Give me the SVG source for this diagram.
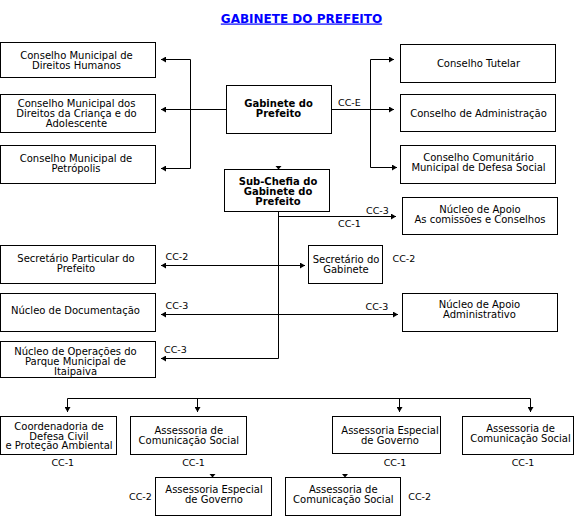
<svg xmlns="http://www.w3.org/2000/svg" width="579" height="516" viewBox="0 0 579 516">
<style>
  .box { fill: #ffffff; stroke: #000000; stroke-width: 1; }
  .t { font-family: "DejaVu Sans", Verdana, sans-serif; font-size: 10px; fill: #000000; text-anchor: middle; }
  .b { font-weight: bold; }
  .lbl { font-family: "DejaVu Sans", Verdana, sans-serif; font-size: 9.5px; fill: #000000; }
  .c { text-anchor: middle; }
  .ln { fill: none; stroke: #000000; stroke-width: 1; }
  .arr { marker-end: url(#ah); }
  .arr2 { marker-start: url(#ah); marker-end: url(#ah); }
  .title { font-family: "DejaVu Sans", Verdana, sans-serif; font-size: 12px; font-weight: bold; fill: #0000ff; text-anchor: middle; text-decoration: underline; }
</style>
<defs>
  <marker id="ah" viewBox="0 0 5 6" refX="5" refY="3" markerWidth="5" markerHeight="6" markerUnits="userSpaceOnUse" orient="auto-start-reverse">
    <path d="M0,0 L5,3 L0,6 z" fill="#000000"/>
  </marker>
</defs>
<rect width="579" height="516" fill="#ffffff"/>
<text class="title" x="301.5" y="22.5">GABINETE DO PREFEITO</text>

<g id="connectors">
  <path class="ln arr" d="M226.5,109.5 H161"/>
  <path class="ln" d="M190.5,59.5 V168.5"/>
  <path class="ln arr" d="M190.5,59.5 H161"/>
  <path class="ln arr" d="M190.5,168.5 H161"/>
  <path class="ln arr" d="M331.5,109.5 H394"/>
  <path class="ln" d="M370.5,59.5 V167.5"/>
  <path class="ln arr" d="M370.5,59.5 H394"/>
  <path class="ln arr" d="M370.5,167.5 H397"/>
  <path class="ln" d="M278.5,211.5 V358.5"/>
  <path class="ln arr" d="M278.5,216.5 H396"/>
  <path class="ln arr2" d="M161,265.5 H305"/>
  <path class="ln arr2" d="M161,314.5 H398"/>
  <path class="ln arr" d="M278.5,358.5 H161"/>
  <path class="ln" d="M67.5,398.5 H530.5"/>
  <path class="ln arr" d="M67.5,398.5 V412"/>
  <path class="ln arr" d="M197.5,398.5 V412"/>
  <path class="ln arr" d="M399.5,398.5 V412"/>
  <path class="ln arr" d="M530.5,398.5 V412"/>
  <polygon points="275.5,166 281.5,166 278.5,169.5" fill="#000000"/>
  <polygon points="209.5,474 215.5,474 212.5,477.5" fill="#000000"/>
  <polygon points="342,474 348,474 345,477.5" fill="#000000"/>
  <text class="lbl" x="338" y="106">CC-E</text>
  <text class="lbl" x="366" y="214">CC-3</text>
  <text class="lbl" x="338" y="226.5">CC-1</text>
  <text class="lbl" x="165.5" y="260">CC-2</text>
  <text class="lbl" x="392.5" y="261.5">CC-2</text>
  <text class="lbl" x="165.5" y="309">CC-3</text>
  <text class="lbl" x="365.5" y="309.5">CC-3</text>
  <text class="lbl" x="164" y="353">CC-3</text>
  <text class="lbl c" x="62.8" y="466">CC-1</text>
  <text class="lbl c" x="193.5" y="466">CC-1</text>
  <text class="lbl c" x="395" y="466">CC-1</text>
  <text class="lbl c" x="523" y="466">CC-1</text>
  <text class="lbl" x="129" y="499.5">CC-2</text>
  <text class="lbl" x="408.3" y="499.5">CC-2</text>
</g>

<g id="cm-direitos-humanos">
  <rect class="box" x="0.5" y="42.5" width="155" height="35"/>
  <text class="t" x="76.5" y="59">Conselho Municipal de</text>
  <text class="t" x="76.5" y="69">Direitos Humanos</text>
</g>
<g id="cm-direitos-crianca">
  <rect class="box" x="0.5" y="94.5" width="155" height="38"/>
  <text class="t" x="76.5" y="106.7">Conselho Municipal dos</text>
  <text class="t" x="76.5" y="116.7">Direitos da Criança e do</text>
  <text class="t" x="76.5" y="126.7">Adolescente</text>
</g>
<g id="cm-petropolis">
  <rect class="box" x="0.5" y="145.5" width="155" height="38"/>
  <text class="t" x="76" y="161.7">Conselho Municipal de</text>
  <text class="t" x="76" y="171.7">Petrópolis</text>
</g>
<g id="gabinete">
  <rect class="box" x="226.5" y="85.5" width="105" height="48"/>
  <text class="t b" x="278.5" y="107.3">Gabinete do</text>
  <text class="t b" x="278.5" y="117.3">Prefeito</text>
</g>
<g id="sub-chefia">
  <rect class="box" x="224.5" y="169.5" width="105" height="42"/>
  <text class="t b" x="278" y="185">Sub-Chefia do</text>
  <text class="t b" x="278" y="195">Gabinete do</text>
  <text class="t b" x="278" y="205">Prefeito</text>
</g>
<g id="conselho-tutelar">
  <rect class="box" x="400.5" y="44.5" width="155" height="38"/>
  <text class="t" x="478.5" y="66.7">Conselho Tutelar</text>
</g>
<g id="conselho-administracao">
  <rect class="box" x="400.5" y="94.5" width="155" height="37"/>
  <text class="t" x="478.5" y="116.7">Conselho de Administração</text>
</g>
<g id="conselho-comunitario">
  <rect class="box" x="400.5" y="145.5" width="155" height="38"/>
  <text class="t" x="478.5" y="161">Conselho Comunitário</text>
  <text class="t" x="478.5" y="171">Municipal de Defesa Social</text>
</g>
<g id="nucleo-apoio-comissoes">
  <rect class="box" x="402.5" y="197.5" width="155" height="37"/>
  <text class="t" x="480" y="212.7">Núcleo de Apoio</text>
  <text class="t" x="480" y="222.7">As comissões e Conselhos</text>
</g>
<g id="secretario-particular">
  <rect class="box" x="0.5" y="245.5" width="155" height="38"/>
  <text class="t" x="76" y="261.7">Secretário Particular do</text>
  <text class="t" x="76" y="271.7">Prefeito</text>
</g>
<g id="secretario-gabinete">
  <rect class="box" x="308.5" y="245.5" width="74" height="38"/>
  <text class="t" x="346" y="263.3">Secretário do</text>
  <text class="t" x="346" y="273.3">Gabinete</text>
</g>
<g id="nucleo-documentacao">
  <rect class="box" x="0.5" y="293.5" width="155" height="38"/>
  <text class="t" x="75.5" y="314">Núcleo de Documentação</text>
</g>
<g id="nucleo-apoio-administrativo">
  <rect class="box" x="402.5" y="293.5" width="155" height="38"/>
  <text class="t" x="479.5" y="308.3">Núcleo de Apoio</text>
  <text class="t" x="479.5" y="318.3">Administrativo</text>
</g>
<g id="nucleo-operacoes">
  <rect class="box" x="0.5" y="341.5" width="155" height="36"/>
  <text class="t" x="75.5" y="355">Núcleo de Operações do</text>
  <text class="t" x="75.5" y="365">Parque Municipal de</text>
  <text class="t" x="75.5" y="375">Itaipaiva</text>
</g>
<g id="coordenadoria-defesa-civil">
  <rect class="box" x="0.5" y="416.5" width="116" height="38"/>
  <text class="t" x="59" y="430">Coordenadoria de</text>
  <text class="t" x="59" y="439.5">Defesa Civil</text>
  <text class="t" x="59" y="449.3">e Proteção Ambiental</text>
</g>
<g id="assessoria-comunicacao-1">
  <rect class="box" x="130.5" y="416.5" width="116" height="38"/>
  <text class="t" x="188.8" y="434">Assessoria de</text>
  <text class="t" x="188.8" y="444">Comunicação Social</text>
</g>
<g id="assessoria-especial-governo-1">
  <rect class="box" x="332.5" y="416.5" width="108" height="37"/>
  <text class="t" x="390" y="434">Assessoria Especial</text>
  <text class="t" x="390" y="444">de Governo</text>
</g>
<g id="assessoria-comunicacao-2">
  <rect class="box" x="462.5" y="416.5" width="111" height="38"/>
  <text class="t" x="520.5" y="431.7">Assessoria de</text>
  <text class="t" x="520.5" y="441.7">Comunicação Social</text>
</g>
<g id="assessoria-especial-governo-2">
  <rect class="box" x="155.5" y="477.5" width="116" height="38"/>
  <text class="t" x="214" y="493.3">Assessoria Especial</text>
  <text class="t" x="214" y="503.3">de Governo</text>
</g>
<g id="assessoria-comunicacao-3">
  <rect class="box" x="285.5" y="477.5" width="115" height="38"/>
  <text class="t" x="343.3" y="493.3">Assessoria de</text>
  <text class="t" x="343.3" y="503.3">Comunicação Social</text>
</g>
</svg>
